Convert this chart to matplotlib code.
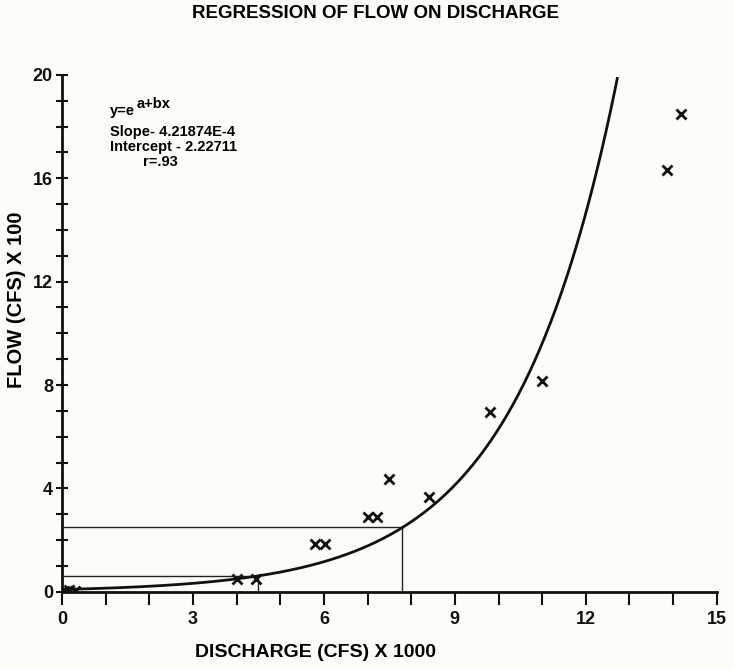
import matplotlib.pyplot as plt
import numpy as np

plt.rcParams['font.family'] = ['Liberation Sans', 'DejaVu Sans']

# regression constants (x in cfs, y in cfs)
slope = 4.21874e-4
intercept = 2.22711

# observed points: discharge (x1000 cfs), flow (x100 cfs)
obs_x = [0.05, 0.15, 0.3, 4.0, 4.45, 5.8, 6.03, 7.0, 7.22, 7.5, 8.4, 9.8, 11.0, 13.85, 14.17]
obs_y = [0.05, 0.08, 0.04, 0.5, 0.5, 1.86, 1.86, 2.9, 2.9, 4.38, 3.68, 6.94, 8.14, 16.3, 18.5]

# reading lines drawn to the curve
ref_x = [4.5, 7.8]

def fit(x):
    return np.exp(intercept + slope * np.asarray(x) * 1000) / 100

bg = '#fdfdf8'
fig = plt.figure(figsize=(7.34, 6.68), dpi=100, facecolor=bg)
ax = fig.add_axes([0.0845, 0.114, 0.892, 0.774])
ax.set_facecolor(bg)

xs = np.linspace(0, 15, 600)
ys = fit(xs)
keep = ys <= 20
ax.plot(xs[keep], ys[keep], color='#111111', lw=2.0, zorder=3)

for rx in ref_x:
    ry = fit(rx)
    ax.plot([0, rx], [ry, ry], color='#222222', lw=1.0)
    ax.plot([rx, rx], [0, ry], color='#222222', lw=1.0)

ax.plot(obs_x, obs_y, 'x', color='#111111', ms=6.5, mew=2.0, zorder=4)

ax.set_xlim(0, 15)
ax.set_ylim(0, 20)
ax.set_xticks(np.arange(0, 16, 3))
ax.set_xticks(np.arange(0, 16, 1), minor=True)
ax.set_yticks(np.arange(0, 21, 4))
ax.set_yticks(np.arange(0, 21, 1), minor=True)
ax.tick_params(axis='x', which='both', direction='out', length=9, width=1.5,
               labelsize=13, pad=5, colors='#111111')
ax.tick_params(axis='y', which='both', direction='inout', length=9, width=1.5,
               labelsize=13, pad=2, colors='#111111')
for lab in ax.get_xticklabels() + ax.get_yticklabels():
    lab.set_fontweight('bold')

for s in ['top', 'right']:
    ax.spines[s].set_visible(False)
for s in ['left', 'bottom']:
    ax.spines[s].set_linewidth(2.0)
    ax.spines[s].set_color('#111111')

fig.text(0.430, 0.0225, 'DISCHARGE (CFS) X 1000', ha='center', va='center',
         fontsize=14, fontweight='bold')
fig.text(0.022, 0.552, 'FLOW (CFS) X 100', ha='center', va='center', rotation=90,
         fontsize=14.5, fontweight='bold')
fig.text(0.511, 0.980, 'REGRESSION OF FLOW ON DISCHARGE', ha='center', va='center',
         fontsize=13.5, fontweight='bold')

kw = dict(transform=ax.transAxes, fontsize=10.5, fontweight='bold', va='center')
ax.text(0.073, 0.930, 'y=e', **kw)
ax.text(0.114, 0.944, 'a+bx', **kw)
ax.text(0.073, 0.890, 'Slope- 4.21874E-4', **kw)
ax.text(0.073, 0.860, 'Intercept - 2.22711', **kw)
ax.text(0.124, 0.832, 'r=.93', **kw)

fig.savefig('out.png', dpi=100, facecolor=fig.get_facecolor())
